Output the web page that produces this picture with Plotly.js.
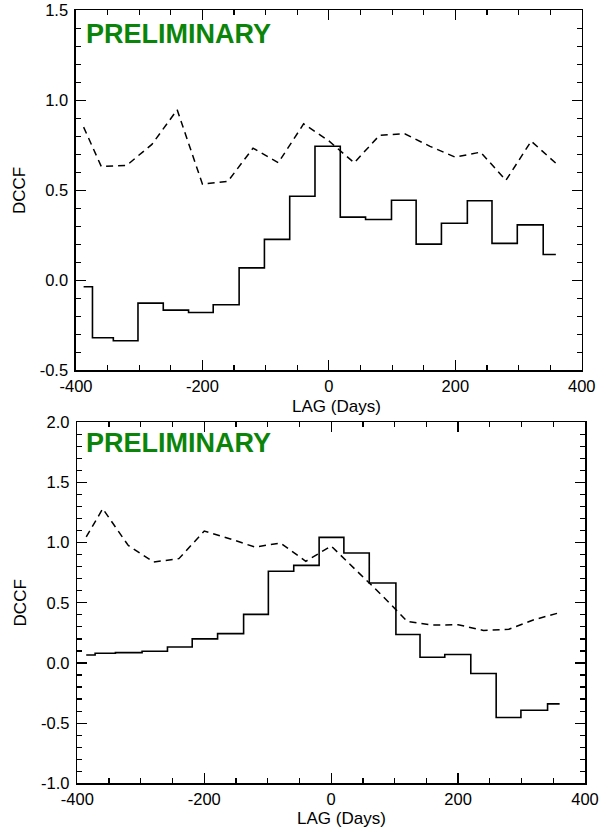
<!DOCTYPE html>
<html>
<head>
<meta charset="utf-8">
<script src="https://cdn.plot.ly/plotly-3.0.1.min.js"></script>
<style>html,body{margin:0;padding:0;background:#fff;}#chart{width:601px;height:831px;}</style>
</head>
<body>
<div id="chart"></div>
<script>
// ---- Data ----
// Top panel: solid histogram-style DCCF (bin edges in days, value per bin)
const topStepEdges = [-388, -374, -341, -302, -262, -222, -183, -142, -102, -62, -22, 18, 58, 99, 138, 178, 219, 258, 298, 339, 359];
const topStepValues = [-0.035, -0.318, -0.335, -0.126, -0.165, -0.178, -0.135, 0.070, 0.228, 0.468, 0.746, 0.352, 0.339, 0.446, 0.202, 0.318, 0.443, 0.206, 0.309, 0.144];
// Top panel: dashed curve
const topDashLags = [-388, -360, -320, -280, -240, -200, -160, -120, -80, -40, 0, 40, 80, 120, 160, 200, 240, 280, 320, 360];
const topDashValues = [0.852, 0.633, 0.639, 0.756, 0.948, 0.535, 0.55, 0.735, 0.654, 0.87, 0.775, 0.654, 0.806, 0.815, 0.745, 0.685, 0.713, 0.556, 0.774, 0.648];

// Bottom panel: solid histogram-style DCCF
const botStepEdges = [-386, -372, -340, -298, -258, -219, -179, -138, -99, -59, -19, 20, 60, 102, 140, 179, 220, 260, 299, 341, 360];
const botStepValues = [0.066, 0.081, 0.086, 0.097, 0.133, 0.200, 0.244, 0.404, 0.762, 0.811, 1.044, 0.914, 0.664, 0.236, 0.047, 0.070, -0.088, -0.453, -0.393, -0.340];
// Bottom panel: dashed curve
const botDashLags = [-386, -360, -320, -280, -240, -200, -160, -120, -80, -40, 0, 40, 80, 120, 160, 200, 240, 280, 320, 360];
const botDashValues = [1.047, 1.282, 0.978, 0.839, 0.867, 1.096, 1.033, 0.963, 0.997, 0.845, 0.972, 0.77, 0.562, 0.345, 0.315, 0.318, 0.27, 0.28, 0.36, 0.418];

// Tick labels
const xTickVals = [-400, -200, 0, 200, 400];
const xTickText = ['-400', '-200', '0', '200', '400'];
const topYTickVals = [-0.5, 0, 0.5, 1.0, 1.5];
const topYTickText = ['-0.5', '0.0', '0.5', '1.0', '1.5'];
const botYTickVals = [-1.0, -0.5, 0, 0.5, 1.0, 1.5, 2.0];
const botYTickText = ['-1.0', '-0.5', '0.0', '0.5', '1.0', '1.5', '2.0'];

const xTitle = 'LAG (Days)';
const yTitle = 'DCCF';
const stamp = 'PRELIMINARY';

// ---- Build traces ----
function stepY(vals) { return vals.concat([vals[vals.length - 1]]); }

const lineSolid = {color: '#000', width: 1.6, shape: 'hv'};
const lineDash = {color: '#000', width: 1.5, dash: '7px,5px'};

const traces = [
  {x: topStepEdges, y: stepY(topStepValues), mode: 'lines', line: lineSolid, xaxis: 'x', yaxis: 'y', hoverinfo: 'skip'},
  {x: topDashLags, y: topDashValues, mode: 'lines', line: lineDash, xaxis: 'x', yaxis: 'y', hoverinfo: 'skip'},
  {x: botStepEdges, y: stepY(botStepValues), mode: 'lines', line: lineSolid, xaxis: 'x2', yaxis: 'y2', hoverinfo: 'skip'},
  {x: botDashLags, y: botDashValues, mode: 'lines', line: lineDash, xaxis: 'x2', yaxis: 'y2', hoverinfo: 'skip'}
];

const font = {family: '"Liberation Sans", Arial, Helvetica, sans-serif', size: 17, color: '#000'};
const tickFont = {family: '"Liberation Sans", Arial, Helvetica, sans-serif', size: 16.5, color: '#000'};

function xAxis(domain, anchor) {
  return {
    domain: domain, anchor: anchor, range: [-400, 400],
    tickmode: 'array', tickvals: xTickVals, ticktext: xTickText,
    ticks: 'inside', ticklen: 10, tickwidth: 1.2, tickcolor: '#000',
    minor: {dtick: 50, tick0: 0, ticks: 'inside', ticklen: 5, tickwidth: 1.2, tickcolor: '#000'},
    showline: true, linecolor: '#000', linewidth: 1.6, mirror: 'ticks',
    showgrid: false, zeroline: false, tickfont: tickFont, ticklabelstandoff: 0
  };
}
function yAxis(domain, anchor, range, vals, text) {
  return {
    domain: domain, anchor: anchor, range: range,
    tickmode: 'array', tickvals: vals, ticktext: text,
    ticks: 'inside', ticklen: 10, tickwidth: 1.2, tickcolor: '#000',
    minor: {dtick: 0.1, tick0: 0, ticks: 'inside', ticklen: 5, tickwidth: 1.2, tickcolor: '#000'},
    showline: true, linecolor: '#000', linewidth: 1.6, mirror: 'ticks',
    showgrid: false, zeroline: false, tickfont: tickFont, ticklabelstandoff: 3,
    title: {text: yTitle, font: font, standoff: 10}
  };
}

const stampFont = {family: '"Liberation Sans", Arial, sans-serif', size: 27, color: '#0a850a'};

const layout = {
  width: 601, height: 831,
  margin: {l: 0, r: 0, t: 0, b: 0},
  paper_bgcolor: '#fff', plot_bgcolor: '#fff',
  showlegend: false,
  font: font,
  xaxis: xAxis([0.1265, 0.968], 'y'),
  yaxis: yAxis([0.5542, 0.9874], 'x', [-0.5, 1.5], topYTickVals, topYTickText),
  xaxis2: xAxis([0.1287, 0.9734], 'y2'),
  yaxis2: yAxis([0.0574, 0.4918], 'x2', [-1.0, 2.0], botYTickVals, botYTickText),
  annotations: [
    {xref: 'x', yref: 'y', x: -388, y: 1.367, xanchor: 'left', yanchor: 'middle', showarrow: false,
     text: '<b>' + stamp + '</b>', font: stampFont},
    {xref: 'x2', yref: 'y2', x: -390, y: 1.826, xanchor: 'left', yanchor: 'middle', showarrow: false,
     text: '<b>' + stamp + '</b>', font: stampFont},
    {xref: 'paper', yref: 'paper', x: 336.5 / 601, y: 1 - 406 / 831, xanchor: 'center', yanchor: 'middle', showarrow: false,
     text: xTitle, font: font, borderpad: 0},
    {xref: 'paper', yref: 'paper', x: 341.5 / 601, y: 1 - 818.5 / 831, xanchor: 'center', yanchor: 'middle', showarrow: false,
     text: xTitle, font: font, borderpad: 0}
  ]
};

Plotly.newPlot('chart', traces, layout, {staticPlot: true, displayModeBar: false});
</script>
</body>
</html>
